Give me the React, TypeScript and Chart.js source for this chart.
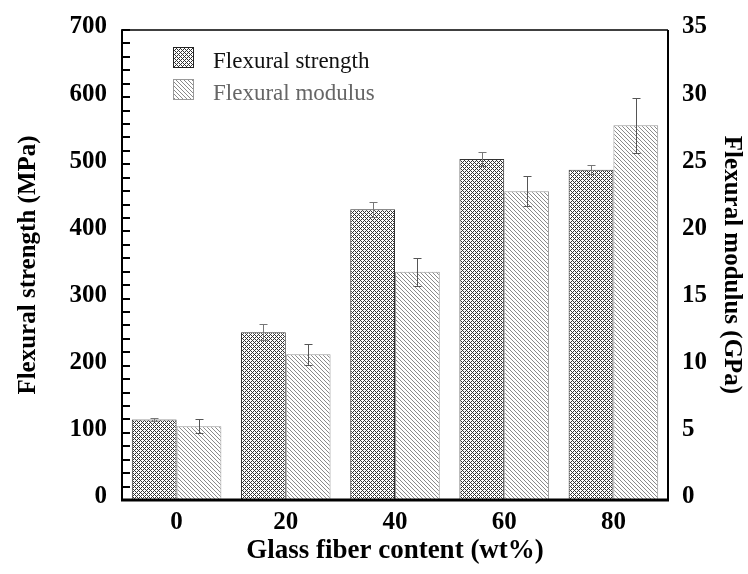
import React, { useEffect, useRef } from 'react';
import { Chart, registerables } from 'chart.js';

Chart.register(...registerables);

const categories = ['0', '20', '40', '60', '80'];
const strength = [120, 250, 433, 508, 492];
const strengthErr = [2, 12, 11, 10, 7];
const modulus = [5.5, 10.85, 17.0, 23.0, 27.9];
const modulusErr = [0.5, 0.8, 1.05, 1.1, 2.05];
const leftTicks = { min: 0, max: 700, step: 100, minor: 20 };
const rightTicks = { min: 0, max: 35, step: 5 };

const FONT = '"Liberation Serif", "Times New Roman", serif';

function makePattern(kind: 'cross' | 'hatch'): CanvasPattern | string {
  const c = document.createElement('canvas');
  c.width = 4;
  c.height = 4;
  const g = c.getContext('2d');
  if (!g) return '#aaa';
  g.fillStyle = '#ffffff';
  g.fillRect(0, 0, 4, 4);
  for (let x = 0; x < 4; x++) {
    for (let y = 0; y < 4; y++) {
      if (kind === 'cross') {
        if ((x + y) % 4 === 0 || (((x - y) % 4) + 4) % 4 === 0) {
          g.fillStyle = '#333333';
          g.fillRect(x, y, 1, 1);
        }
      } else {
        if ((((x - y) % 4) + 4) % 4 === 0) {
          g.fillStyle = '#8a8a8a';
          g.fillRect(x, y, 1, 1);
        }
      }
    }
  }
  const p = g.createPattern(c, 'repeat');
  return p || '#aaa';
}

export default function App() {
  const ref = useRef<HTMLCanvasElement | null>(null);

  useEffect(() => {
    document.body.style.margin = '0';
    const canvas = ref.current;
    if (!canvas) return;
    const cross = makePattern('cross');
    const hatch = makePattern('hatch');

    const errs = [
      { err: strengthErr, axis: 'y', color: '#777777' },
      { err: modulusErr, axis: 'y1', color: '#555555' },
    ];

    const extras = {
      id: 'extras',
      afterDatasetsDraw(chart: any) {
        const ctx = chart.ctx;
        ctx.save();
        errs.forEach((e, di) => {
          const meta = chart.getDatasetMeta(di);
          const data = chart.data.datasets[di].data as number[];
          const scale = chart.scales[e.axis];
          ctx.strokeStyle = e.color;
          ctx.lineWidth = 1;
          meta.data.forEach((bar: any, j: number) => {
            const x = Math.round(bar.x) + 0.5;
            const yt = Math.round(scale.getPixelForValue(data[j] + e.err[j])) + 0.5;
            const yb = Math.round(scale.getPixelForValue(data[j] - e.err[j])) + 0.5;
            ctx.beginPath();
            ctx.moveTo(x, yt);
            ctx.lineTo(x, yb);
            ctx.moveTo(x - 4, yt);
            ctx.lineTo(x + 4, yt);
            ctx.moveTo(x - 4, yb);
            ctx.lineTo(x + 4, yb);
            ctx.stroke();
          });
        });
        ctx.restore();
      },
      afterDraw(chart: any) {
        const ctx = chart.ctx;
        const a = chart.chartArea;
        const ys = chart.scales.y;
        ctx.save();
        // inner minor ticks on left axis
        ctx.strokeStyle = '#000';
        ctx.lineWidth = 2;
        for (let v = leftTicks.min; v <= leftTicks.max; v += leftTicks.minor) {
          const y = Math.round(ys.getPixelForValue(v));
          ctx.beginPath();
          ctx.moveTo(a.left, y);
          ctx.lineTo(a.left + 8, y);
          ctx.stroke();
        }
        // frame
        ctx.lineWidth = 1.5;
        ctx.beginPath();
        ctx.moveTo(a.left, a.top);
        ctx.lineTo(a.right, a.top);
        ctx.stroke();
        ctx.lineWidth = 2;
        ctx.beginPath();
        ctx.moveTo(a.right, a.top);
        ctx.lineTo(a.right, a.bottom);
        ctx.moveTo(a.left, a.top - 0.75);
        ctx.lineTo(a.left, a.bottom);
        ctx.stroke();
        ctx.lineWidth = 3;
        ctx.beginPath();
        ctx.moveTo(a.left - 1, a.bottom);
        ctx.lineTo(a.right + 1, a.bottom);
        ctx.stroke();
        // legend
        const items = [
          { fill: cross, border: '#222', text: chart.data.datasets[0].label, color: '#111', y: 47 },
          { fill: hatch, border: '#999', text: chart.data.datasets[1].label, color: '#666', y: 79 },
        ];
        items.forEach((it) => {
          const bx = a.left + 51;
          const by = it.y;
          ctx.fillStyle = it.fill as any;
          ctx.fillRect(bx, by, 21, 21);
          ctx.strokeStyle = it.border;
          ctx.lineWidth = 1;
          ctx.strokeRect(bx + 0.5, by + 0.5, 20, 20);
          ctx.fillStyle = it.color;
          ctx.font = '23px ' + FONT;
          ctx.textBaseline = 'alphabetic';
          ctx.textAlign = 'left';
          ctx.fillText(it.text, a.left + 91, by + 21);
        });
        ctx.restore();
      },
    };

    const tickFont = { family: FONT, size: 25, weight: 'bold' as const };
    const xTitleFont = { family: FONT, size: 27, weight: 'bold' as const };
    const chart = new Chart(canvas, {
      type: 'bar',
      data: {
        labels: categories,
        datasets: [
          {
            label: 'Flexural strength',
            data: strength,
            yAxisID: 'y',
            backgroundColor: cross as any,
            borderColor: '#333333',
            borderWidth: 1,
            categoryPercentage: 0.82,
            barPercentage: 1,
          },
          {
            label: 'Flexural modulus',
            data: modulus,
            yAxisID: 'y1',
            backgroundColor: hatch as any,
            borderColor: '#999999',
            borderWidth: 1,
            categoryPercentage: 0.82,
            barPercentage: 1,
          },
        ],
      },
      options: {
        animation: false,
        responsive: false,
        events: [],
        layout: { padding: { top: 28, left: 0, right: 0, bottom: 0 } },
        plugins: {
          legend: { display: false },
          tooltip: { enabled: false },
        },
        scales: {
          x: {
            type: 'category',
            grid: { display: false, drawTicks: false },
            border: { display: false },
            ticks: { font: tickFont, color: '#000', padding: 8, maxRotation: 0 },
            title: {
              display: true,
              text: 'Glass fiber content (wt%)',
              font: xTitleFont,
              color: '#000',
              padding: { top: 0, bottom: 7 },
            },
            afterFit: (s: any) => {
              s.height = 74;
            },
          },
          y: {
            type: 'linear',
            position: 'left',
            min: leftTicks.min,
            max: leftTicks.max,
            grid: { display: false, drawTicks: false },
            border: { display: false },
            ticks: { stepSize: leftTicks.step, font: tickFont, color: '#000', padding: 15, labelOffset: -3 },
            title: {
              display: true,
              text: 'Flexural strength (MPa)',
              font: tickFont,
              color: '#000',
              padding: { top: 14, bottom: 0 },
            },
            afterFit: (s: any) => {
              s.width = 122;
            },
          },
          y1: {
            type: 'linear',
            position: 'right',
            min: rightTicks.min,
            max: rightTicks.max,
            grid: { display: false, drawTicks: false },
            border: { display: false },
            ticks: { stepSize: rightTicks.step, font: tickFont, color: '#000', padding: 14, labelOffset: -3 },
            title: {
              display: true,
              text: 'Flexural modulus (GPa)',
              font: tickFont,
              color: '#000',
              padding: { top: 2, bottom: 0 },
            },
            afterFit: (s: any) => {
              s.width = 80;
            },
          },
        },
      },
      plugins: [extras],
    });
    return () => chart.destroy();
  }, []);

  return (
    <div style={{ width: 748, height: 574, background: '#fff' }}>
      <canvas ref={ref} width={748} height={574} style={{ display: 'block' }} />
    </div>
  );
}
